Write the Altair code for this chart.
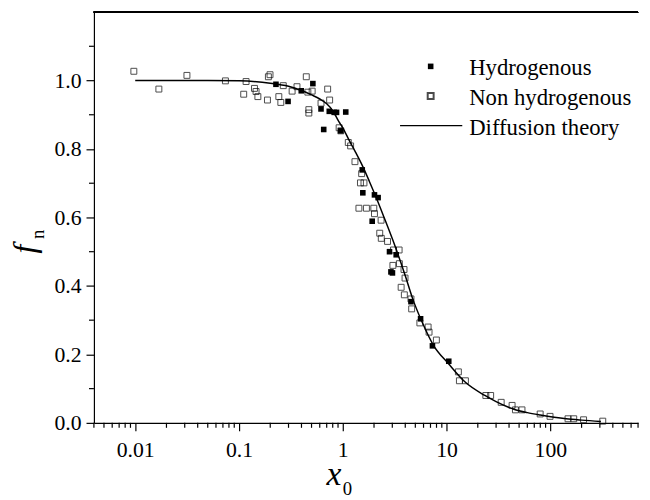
import altair as alt
import pandas as pd

# ---- data ----
x_open = [0.0097, 0.0169, 0.0315, 0.074, 0.117, 0.111, 0.141, 0.146, 0.152, 0.188,
          0.192, 0.199, 0.242, 0.253, 0.267, 0.325, 0.362, 0.445, 0.471, 0.471,
          0.461, 0.507, 0.617, 0.715, 0.747, 0.922, 0.957, 1.13, 1.19, 1.31,
          1.52, 1.48, 1.60, 1.43, 1.69, 1.99, 2.02, 2.34, 2.27, 2.35,
          2.70, 3.08, 3.49, 3.04, 3.51, 3.89, 3.98, 3.65, 3.92, 4.54,
          4.61, 5.53, 6.64, 6.78, 7.98, 13.0, 13.3, 15.2, 23.9, 26.6,
          33.6, 42.8, 46.1, 53.3, 79.8, 99.3, 148, 168, 209, 320]
y_open = [1.027, 0.975, 1.015, 0.999, 0.997, 0.960, 0.977, 0.968, 0.953, 0.943,
          1.011, 1.017, 0.953, 0.936, 0.985, 0.969, 0.982, 1.011, 0.915, 0.905,
          0.966, 0.969, 0.934, 0.975, 0.943, 0.862, 0.853, 0.819, 0.809, 0.763,
          0.728, 0.701, 0.701, 0.627, 0.627, 0.627, 0.611, 0.592, 0.554, 0.539,
          0.530, 0.505, 0.505, 0.460, 0.465, 0.448, 0.423, 0.396, 0.374, 0.362,
          0.333, 0.292, 0.280, 0.265, 0.242, 0.149, 0.123, 0.123, 0.080, 0.080,
          0.060, 0.051, 0.038, 0.038, 0.026, 0.019, 0.012, 0.012, 0.009, 0.005]

x_fill = [0.227, 0.297, 0.398, 0.515, 0.617, 0.741, 0.826, 0.871, 1.068, 0.655,
          0.957, 1.54, 1.56, 2.02, 2.19, 1.92, 2.82, 3.27, 2.91, 3.01,
          5.62, 7.31, 4.54, 10.5]
y_fill = [0.989, 0.939, 0.970, 0.991, 0.917, 0.910, 0.907, 0.907, 0.908, 0.857,
          0.853, 0.739, 0.672, 0.666, 0.658, 0.589, 0.500, 0.491, 0.441, 0.438,
          0.304, 0.225, 0.354, 0.180]

x_theory = [0.01, 0.05, 0.1, 0.2, 0.3, 0.4, 0.5, 0.6, 0.7, 0.8, 0.92, 1.0, 1.15,
            1.33, 1.54, 1.8, 2.06, 2.5, 3.2, 4.0, 4.75, 6.0, 7.43, 10.5, 15,
            23.4, 30, 44.4, 60, 80, 142, 200, 307]
y_theory = [1.0, 1.0, 0.999, 0.992, 0.983, 0.971, 0.958, 0.946, 0.932, 0.912,
            0.879, 0.862, 0.826, 0.79, 0.752, 0.706, 0.664, 0.6, 0.515, 0.43,
            0.36, 0.285, 0.228, 0.172, 0.12, 0.08, 0.062, 0.04, 0.03, 0.023,
            0.012, 0.008, 0.004]

legend_labels = ["Hydrogenous", "Non hydrogenous", "Diffusion theory"]

x_major = [0.01, 0.1, 1, 10, 100]
x_minor = [m * d for d in [0.001, 0.01, 0.1, 1, 10, 100] for m in range(2, 10)
           if 0.004 <= m * d <= 700]
y_major = [0, 0.2, 0.4, 0.6, 0.8, 1.0]
y_minor = [0.1, 0.3, 0.5, 0.7, 0.9, 1.1]

FONT = "Liberation Serif"
W, H = 551, 416

df_open = pd.DataFrame({"x": x_open, "y": y_open})
df_fill = pd.DataFrame({"x": x_fill, "y": y_fill})
df_th = pd.DataFrame({"x": x_theory, "y": y_theory})
df_xminor = pd.DataFrame({"x": x_minor})
df_yminor = pd.DataFrame({"y": y_minor})

x_axis = alt.Axis(
    values=x_major, title=None, grid=False, labelOverlap=False, format="~g",
    tickSize=8, labelFont=FONT, labelFontSize=22, labelColor="black", labelPadding=9,
    domainColor="black", tickColor="black", domainWidth=1.2, tickWidth=1.2,
)
y_axis = alt.Axis(
    values=y_major, title=None, grid=False, labelOverlap=False, format=".1f",
    tickSize=8, labelFont=FONT, labelFontSize=22, labelColor="black", labelPadding=5,
    domainColor="black", tickColor="black", domainWidth=1.2, tickWidth=1.2,
)

xscale = alt.Scale(type="log", domain=[0.004, 700])
yscale = alt.Scale(domain=[0, 1.2], nice=False)
X = alt.X("x:Q", scale=xscale, axis=x_axis)
Y = alt.Y("y:Q", scale=yscale, axis=y_axis)

line = alt.Chart(df_th).mark_line(color="black", strokeWidth=1.5, interpolate="monotone").encode(x=X, y=Y)
opens = alt.Chart(df_open).mark_point(shape="square", filled=False, color="black",
                                      size=36, strokeWidth=1).encode(x=X, y=Y)
fills = alt.Chart(df_fill).mark_point(shape="square", filled=True, color="black",
                                      size=32, opacity=1).encode(x=X, y=Y)

# minor ticks (outward, shorter than the major ones)
xminor = alt.Chart(df_xminor).mark_rule(color="black", strokeWidth=1.2).encode(
    x=X, y=alt.value(H), y2=alt.value(H + 5))
yminor = alt.Chart(df_yminor).mark_rule(color="black", strokeWidth=1.2).encode(
    y=Y, x=alt.value(-5), x2=alt.value(0))

top_rule = alt.Chart(df_th).mark_rule(color="black", strokeWidth=1.2).encode(
    x=alt.value(0), x2=alt.value(W), y=alt.value(0))

# legend
leg = pd.DataFrame({"label": legend_labels})
leg_text = [
    alt.Chart(leg.iloc[[i]]).mark_text(font=FONT, fontSize=23, align="left",
                                       baseline="alphabetic", color="black").encode(
        text="label:N", x=alt.value(380), y=alt.value(yy))
    for i, yy in enumerate([64, 94, 124])
]
leg_fill = alt.Chart(leg.iloc[[0]]).mark_point(shape="square", filled=True, color="black",
                                              size=32, opacity=1).encode(
    x=alt.value(341), y=alt.value(55))
leg_open = alt.Chart(leg.iloc[[1]]).mark_point(shape="square", filled=False, color="black",
                                              size=36).encode(
    x=alt.value(341), y=alt.value(85))
leg_line = alt.Chart(leg.iloc[[2]]).mark_rule(color="black", strokeWidth=1.5).encode(
    x=alt.value(310), x2=alt.value(373), y=alt.value(115))

# axis titles (italic with subscripts)
tt = pd.DataFrame({"t": ["x", "0", "f", "n"]})
title_x = alt.Chart(tt.iloc[[0]]).mark_text(font=FONT, fontSize=34, fontStyle="italic",
                                          align="center", baseline="alphabetic", color="black").encode(
    text="t:N", x=alt.value(243), y=alt.value(479))
title_x0 = alt.Chart(tt.iloc[[1]]).mark_text(font=FONT, fontSize=19, align="left",
                                           baseline="alphabetic", color="black").encode(
    text="t:N", x=alt.value(252), y=alt.value(489))
title_f = alt.Chart(tt.iloc[[2]]).mark_text(font=FONT, fontSize=32, fontStyle="italic",
                                          align="center", baseline="alphabetic", angle=270,
                                          color="black").encode(
    text="t:N", x=alt.value(-60), y=alt.value(240))
title_n = alt.Chart(tt.iloc[[3]]).mark_text(font=FONT, fontSize=19, align="center",
                                          baseline="alphabetic", angle=270, color="black").encode(
    text="t:N", x=alt.value(-51), y=alt.value(225))

chart = alt.layer(
    line, opens, fills, xminor, yminor, top_rule, *leg_text, leg_fill, leg_open, leg_line,
    title_x, title_x0, title_f, title_n
).properties(
    width=W, height=H,
    autosize=alt.AutoSizeParams(type="none"),
    padding={"left": 87, "top": 1, "right": 4, "bottom": 75},
    background="white",
).configure_view(stroke=None).configure_axis(
    labelFont=FONT, labelFontSize=22, labelColor="black"
)

chart.save("out.html", embed_options={"renderer": "svg", "actions": False})
